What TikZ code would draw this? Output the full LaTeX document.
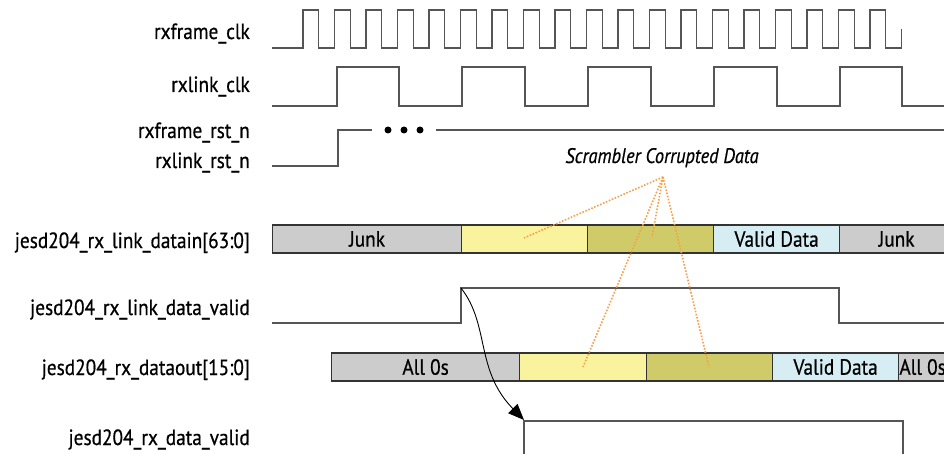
\documentclass[tikz,border=0pt]{standalone}
\usepackage{fontspec}
\setmainfont{PT Sans}[FakeStretch=0.877,FakeBold=0.6]
\usetikzlibrary{arrows.meta}
\definecolor{busgray}{HTML}{CCCCCC}
\definecolor{busyellow}{HTML}{FAF39E}
\definecolor{busolive}{HTML}{CFCB68}
\definecolor{buscyan}{HTML}{D5EDF3}
\definecolor{dotorange}{HTML}{F5A04A}
\definecolor{sigcol}{HTML}{555555}
\begin{document}
\begin{tikzpicture}[x=1pt,y=-1pt,
  lbl/.style={anchor=base east,inner sep=0pt,font=\fontsize{22}{24}\selectfont},
  sig/.style={draw=sigcol,line width=1.3pt},
  seg/.style={draw=black!80,line width=1.2pt,minimum height=28pt,inner sep=0pt,anchor=west,font=\fontsize{22}{24}\selectfont},
  note/.style={draw=dotorange,line width=1.6pt,dash pattern=on 1.6pt off 1.6pt},
  dotmark/.style={circle,fill=black,inner sep=0pt,minimum size=7pt}]
\path[use as bounding box] (0,0) rectangle (944,454);
\clip (0,0) rectangle (944,454);
% labels
\node[lbl] (l1) at (250,39) {rxframe\_clk};
\node[lbl] (l2) at (250,92) {rxlink\_clk};
\node[lbl] (l3) at (250,138) {rxframe\_rst\_n};
\node[lbl] (l4) at (250,168) {rxlink\_rst\_n};
\node[lbl] (l5) at (250,248) {jesd204\_rx\_link\_datain[63:0]};
\node[lbl] (l6) at (250,315) {jesd204\_rx\_link\_data\_valid};
\node[lbl] (l7) at (250,375) {jesd204\_rx\_dataout[15:0]};
\node[lbl] (l8) at (250,445) {jesd204\_rx\_data\_valid};
% rxframe_clk
\draw[sig] (272,48) foreach \k in {0,...,18} { -- ({303+31.5*\k},48) -- ({303+31.5*\k},10) -- ({318.75+31.5*\k},10) -- ({318.75+31.5*\k},48) } -- (901.5,48) -- (901.5,29);
% rxlink_clk
\draw[sig] (272,106) -- (337,106) -- (337,67) -- (399,67) -- (399,106) -- (462,106) -- (462,67) -- (525,67) -- (525,106) -- (588,106) -- (588,67) -- (651,67) -- (651,106) -- (714,106) -- (714,67) -- (777,67) -- (777,106) -- (840,106) -- (840,67) -- (902,67) -- (902,106) -- (944,106);
% resets
\draw[sig] (272,166) -- (338,166) -- (338,130) -- (372,130);
\node[dotmark] (d1) at (388,130) {};
\node[dotmark] (d2) at (404,130) {};
\node[dotmark] (d3) at (420,130) {};
\draw[sig] (436,130) -- (944,130);
% datain bus
\node[seg,fill=busgray,minimum width=189pt] (j1) at (272,239) {Junk};
\node[seg,fill=busyellow,minimum width=126pt] (y1) at (461,239) {};
\node[seg,fill=busolive,minimum width=126pt] (o1) at (587,239) {};
\node[seg,fill=buscyan,minimum width=126pt] (c1) at (713,239) {Valid Data};
\node[seg,fill=busgray,minimum width=114pt] (j2) at (839,239) {Junk};
% link data valid
\draw[sig] (272,323) -- (461,323) -- (461,288) -- (839,288) -- (839,323) -- (944,323);
% dataout bus
\node[seg,fill=busgray,minimum width=188pt] (a1) at (331,367) {All 0s};
\node[seg,fill=busyellow,minimum width=127pt] (y2) at (519,367) {};
\node[seg,fill=busolive,minimum width=126pt] (o2) at (646,367) {};
\node[seg,fill=buscyan,minimum width=126pt] (c2) at (772,367) {Valid Data};
\node[seg,fill=busgray,minimum width=48pt] (a2) at (898,367) {All 0s};
% rx data valid
\draw[sig] (524,460) -- (524,421) -- (903,421) -- (903,460);
% curved arrow
\coordinate (cs) at (461,288);
\coordinate (ce) at (524,420);
\draw[black,line width=0.9pt,-{Triangle[length=16pt,width=13pt]}] (cs) .. controls (490,325) and (475,370) .. (ce);
% annotation
\node[inner sep=0pt,anchor=base,font=\fontsize{21}{24}\selectfont\itshape] (sc) at (662,163) {Scrambler Corrupted Data};
\coordinate (sp) at (663,177);
\coordinate (e1) at (524,238);
\coordinate (e2) at (652,237);
\coordinate (e3) at (583,367);
\coordinate (e4) at (709,367);
\draw[note] (sp) -- (e1);
\draw[note] (sp) -- (e2);
\draw[note] (sp) -- (e3);
\draw[note] (sp) -- (e4);
\end{tikzpicture}
\end{document}
